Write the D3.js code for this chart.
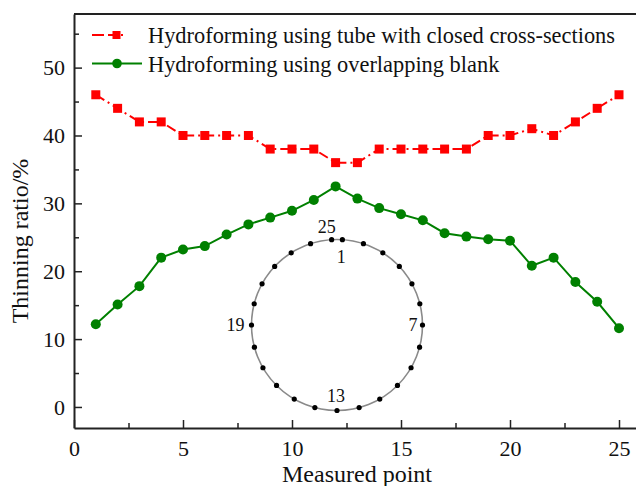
<!DOCTYPE html>
<html>
<head>
<meta charset="utf-8">
<script src="https://cdn.jsdelivr.net/npm/d3@7"></script>
<style>
  body { margin: 0; background: #fff; }
  text { font-family: "Liberation Serif", "Times New Roman", serif; fill: #111; }
</style>
</head>
<body>
<script>
var width = 636, height = 486;

// measured points 1..25
var points = d3.range(1, 26);
var closedTube = [46, 44, 42, 42, 40, 40, 40, 40, 38, 38, 38, 36, 36, 38, 38, 38, 38, 38, 40, 40, 41, 40, 42, 44, 46];
var overlapBlank = [12.2, 15.1, 17.8, 22.0, 23.2, 23.7, 25.4, 26.9, 27.9, 28.9, 30.5, 32.5, 30.7, 29.3, 28.4, 27.5, 25.6, 25.1, 24.7, 24.5, 20.8, 22.0, 18.4, 15.5, 11.6];
var seriesNames = ["Hydroforming using tube with closed cross-sections", "Hydroforming using overlapping blank"];
var xTicks = [0, 5, 10, 15, 20, 25];
var yTicks = [0, 10, 20, 30, 40, 50];
// inset: labelled positions round the tube section
var insetLabels = [25, 1, 7, 13, 19];

const svg = d3.select("body").append("svg").attr("width", width).attr("height", height);

const x = d3.scaleLinear().domain([0, 26]).range([74, 74 + 26 * 21.8]);
const y = d3.scaleLinear().domain([-3.1, 57.9]).range([428, 14]);

// frame
svg.append("line").attr("x1", 74).attr("x2", width).attr("y1", 14).attr("y2", 14)
  .attr("stroke", "#222").attr("stroke-width", 2);

const xAxis = svg.append("g").attr("transform", "translate(0,428)")
  .call(d3.axisBottom(x).tickValues(xTicks).tickSize(-8).tickPadding(12).tickSizeOuter(0));
svg.append("g").attr("transform", "translate(0,428)")
  .call(d3.axisBottom(x).tickValues([2.5, 7.5, 12.5, 17.5, 22.5]).tickSize(-5).tickFormat("").tickSizeOuter(0))
  .select(".domain").remove();

const yAxis = svg.append("g").attr("transform", "translate(74,0)")
  .call(d3.axisLeft(y).tickValues(yTicks).tickSize(-8).tickPadding(9).tickSizeOuter(0));
svg.append("g").attr("transform", "translate(74,0)")
  .call(d3.axisLeft(y).tickValues([5, 15, 25, 35, 45, 55]).tickSize(-5).tickFormat("").tickSizeOuter(0))
  .select(".domain").remove();

svg.selectAll(".domain").attr("stroke", "#222").attr("stroke-width", 2);
svg.selectAll(".tick line").attr("stroke", "#222").attr("stroke-width", 1.5);
svg.selectAll(".tick text").style("font-family", "Liberation Serif").style("font-size", "22px").attr("fill", "#111");
xAxis.selectAll(".tick text").attr("dy", "0.71em");

svg.append("text").attr("x", 357).attr("y", 482).attr("text-anchor", "middle")
  .style("font-size", "24px").text("Measured point");
svg.append("text").attr("transform", "translate(28,241) rotate(-90)").attr("text-anchor", "middle")
  .style("font-size", "24px").text("Thinning ratio/%");

// inset: tube cross-section with measuring points
const cx = 337, cy = 325, r = 85.5;
const angle = d3.scaleLinear().domain([1, 7, 13, 19, 25]).range([3.6, 90, 180, 270, 356.4]);
const pos = function (p, rr) {
  var a = angle(p) * Math.PI / 180;
  return [cx + rr * Math.sin(a), cy - rr * Math.cos(a)];
};
const inset = svg.append("g");
inset.append("circle").attr("cx", cx).attr("cy", cy).attr("r", r)
  .attr("fill", "none").attr("stroke", "#8a8a8a").attr("stroke-width", 1.6);
inset.selectAll("circle.pt").data(points).enter().append("circle").attr("class", "pt")
  .attr("cx", d => pos(d, r)[0]).attr("cy", d => pos(d, r)[1]).attr("r", 2.6).attr("fill", "#000");
const labelOffset = { 25: [-5, -7, "middle"], 1: [-1, 23, "middle"], 7: [-5, 6, "end"], 13: [-1, -9, "middle"], 19: [-7, 6, "end"] };
inset.selectAll("text").data(insetLabels).enter().append("text")
  .attr("x", d => pos(d, r)[0] + labelOffset[d][0])
  .attr("y", d => pos(d, r)[1] + labelOffset[d][1])
  .attr("text-anchor", d => labelOffset[d][2])
  .style("font-size", "18px").text(d => d);

// series
const line = d3.line().x(d => x(d[0])).y(d => y(d[1]));
const red = points.map((p, i) => [p, closedTube[i]]);
const green = points.map((p, i) => [p, overlapBlank[i]]);

svg.append("path").datum(red).attr("d", line).attr("fill", "none")
  .attr("stroke", "#ff0000").attr("stroke-width", 2).attr("stroke-dasharray", "10,4,2,4");
svg.selectAll("rect.red").data(red).enter().append("rect").attr("class", "red")
  .attr("x", d => x(d[0]) - 4.5).attr("y", d => y(d[1]) - 4.5).attr("width", 9).attr("height", 9)
  .attr("fill", "#ff0000");

svg.append("path").datum(green).attr("d", line).attr("fill", "none")
  .attr("stroke", "#008000").attr("stroke-width", 2);
svg.selectAll("circle.green").data(green).enter().append("circle").attr("class", "green")
  .attr("cx", d => x(d[0])).attr("cy", d => y(d[1])).attr("r", 5).attr("fill", "#008000");

// legend
const legend = svg.append("g");
legend.append("line").attr("x1", 92).attr("x2", 141).attr("y1", 35).attr("y2", 35)
  .attr("stroke", "#ff0000").attr("stroke-width", 2).attr("stroke-dasharray", "12,4,8,5,2,20");
legend.append("rect").attr("x", 112.5).attr("y", 31).attr("width", 8).attr("height", 8).attr("fill", "#ff0000");
legend.append("line").attr("x1", 92).attr("x2", 142).attr("y1", 63.5).attr("y2", 63.5)
  .attr("stroke", "#008000").attr("stroke-width", 2);
legend.append("circle").attr("cx", 117).attr("cy", 63.5).attr("r", 4.8).attr("fill", "#008000");
legend.selectAll("text").data(seriesNames).enter().append("text")
  .attr("x", 148).attr("y", (d, i) => 43 + i * 28.5)
  .style("font-size", "22.4px").text(d => d);
</script>
</body>
</html>
